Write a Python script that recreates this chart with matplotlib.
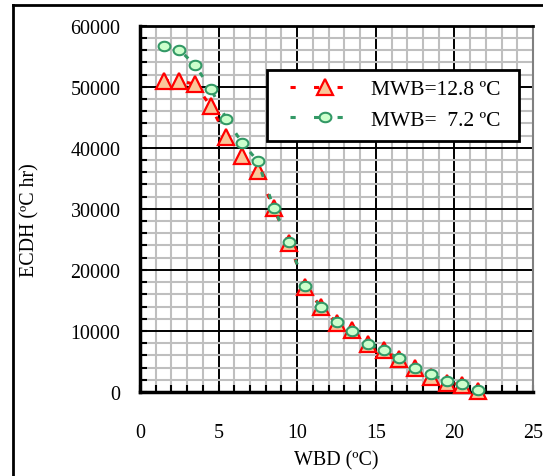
import numpy as np
import matplotlib
matplotlib.use('Agg')
import matplotlib.pyplot as plt
from matplotlib.path import Path
from matplotlib.patches import Rectangle
from matplotlib.lines import Line2D
from matplotlib.ticker import MultipleLocator

plt.rcParams['font.family'] = ['Liberation Serif', 'DejaVu Serif']

# wet bulb depression bins (ºC) and cumulative degree hours
wbd = [1.5, 2.5, 3.5, 4.5, 5.5, 6.5, 7.5, 8.5, 9.5, 10.5, 11.5,
       12.5, 13.5, 14.5, 15.5, 16.5, 17.5, 18.5, 19.5, 20.5, 21.5]
ecdh_128 = [51000, 51000, 50400, 46800, 41800, 38600, 36200, 30100, 24400, 17200, 14000,
            11300, 10100, 7800, 6800, 5400, 3900, 2500, 1500, 1200, 200]
ecdh_72 = [56600, 56100, 53500, 49700, 44700, 40800, 37800, 30200, 24500, 17300, 14000,
           11500, 10000, 7900, 6800, 5500, 4000, 2950, 1750, 1300, 330]
series_labels = ['MWB=12.8 ºC', 'MWB=  7.2 ºC']

# slightly flattened circle marker
t = np.linspace(0, 2 * np.pi, 61)
ellipse = Path(np.column_stack([np.cos(t), 0.8 * np.sin(t)]), closed=True)

fig = plt.figure(figsize=(5.43, 4.77), dpi=100)
ax = fig.add_axes([140 / 543, 84 / 477, 393 / 543, 366.3 / 477])

ax.plot(wbd, ecdh_128, color='#ff0000', lw=2.2, linestyle=(0, (1.7, 6)),
        marker='^', markersize=12, markerfacecolor='#fac79a',
        markeredgecolor='#ff0000', markeredgewidth=1.6, label=series_labels[0],
        zorder=3, clip_on=False)
ax.plot(wbd, ecdh_72, color='#339966', lw=2.2, linestyle=(0, (1.7, 6)),
        marker=ellipse, markersize=8.5, markerfacecolor='#ccffcc',
        markeredgecolor='#339966', markeredgewidth=1.5, label=series_labels[1],
        zorder=4, clip_on=False)

ax.set_xlim(0, 25)
ax.set_ylim(0, 60000)
ax.xaxis.set_major_locator(MultipleLocator(5))
ax.xaxis.set_minor_locator(MultipleLocator(1))
ax.yaxis.set_major_locator(MultipleLocator(10000))
ax.yaxis.set_minor_locator(MultipleLocator(2000))

ax.grid(which='minor', color='#bfbfbf', lw=1.5, zorder=0)
ax.grid(which='major', color='black', lw=1.4, zorder=1)
ax.set_axisbelow(True)

ax.tick_params(which='both', direction='in', length=5, width=1.5,
               top=False, right=False, labelsize=14.4)
ax.tick_params(axis='x', pad=22)
ax.tick_params(axis='y', pad=14)

for side in ['left', 'bottom']:
    ax.spines[side].set_linewidth(2.5)
    ax.spines[side].set_color('black')
ax.spines['top'].set_linewidth(2)
ax.spines['top'].set_color('black')
ax.spines['right'].set_linewidth(1.5)
ax.spines['right'].set_color('#808080')

ax.set_xlabel('WBD (ºC)', fontsize=14.4)
ax.set_ylabel('ECDH (ºC hr)', fontsize=14.4)
ax.xaxis.set_label_coords(0.5, -0.185)
ax.yaxis.set_label_coords(-0.28, 0.472)
ax.xaxis.label.set_va('center')
ax.yaxis.label.set_va('center')

# legend box
box = Rectangle((126.7 / 393, (393 - 142) / 366.3), 252.3 / 393, 71 / 366.3,
                transform=ax.transAxes, facecolor='white', edgecolor='black',
                lw=2, zorder=5)
ax.add_patch(box)
leg = ax.legend(loc='upper left', bbox_to_anchor=(150 / 393, 313 / 366.3),
                frameon=False, fontsize=15.5, borderpad=0, borderaxespad=0,
                handlelength=3.25, handletextpad=0.5, labelspacing=0.5, numpoints=1)
leg.set_zorder(6)

# outer chart frame
fig.add_artist(Line2D([13 / 543, 13 / 543], [0, 471 / 477], color='black', lw=2))
fig.add_artist(Line2D([13 / 543, 1], [471 / 477, 471 / 477], color='black', lw=2))

fig.savefig('out.png', dpi=100)
